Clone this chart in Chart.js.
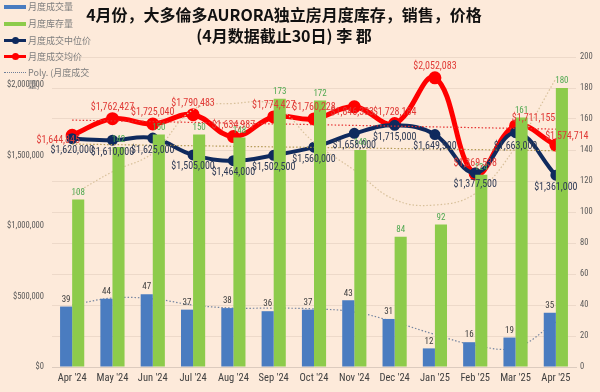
<!DOCTYPE html>
<html>
<head>
<meta charset="utf-8">
<script src="https://cdn.jsdelivr.net/npm/chart.js@4/dist/chart.umd.min.js"></script>
<style>
  html, body { margin: 0; padding: 0; background: #FDEADA; }
  #wrap { position: relative; width: 600px; height: 392px; overflow: hidden; background: #FDEADA; }
  #c { position: absolute; left: 0; top: 0; }
  #title { position: absolute; left: 0; top: 4px; width: 568px; text-align: center;
    font-family: 'Noto Sans CJK SC', 'Noto Sans', sans-serif; font-weight: bold; font-size: 16px;
    line-height: 21px; color: #111; }
  .lg { position: absolute; left: 28px; font-family: 'Noto Sans CJK SC', sans-serif; font-size: 9px;
    color: #7f7f7f; line-height: 12px; white-space: nowrap; }
  .sw { position: absolute; left: 4px; width: 22px; }
  .dot { position: absolute; width: 7px; height: 7px; border-radius: 50%; }
</style>
</head>
<body>
<div id="wrap">
  <canvas id="c" width="600" height="392"></canvas>
  <div id="title">4月份，大多倫多AURORA独立房月度库存，销售，价格<br>(4月数据截止30日) 李 郡</div>
  <div class="sw" style="top:5px;height:4px;background:#4A7CC0"></div>
  <div class="lg" style="top:1px">月度成交量</div>
  <div class="sw" style="top:22px;height:4px;background:#8DCB4B"></div>
  <div class="lg" style="top:18px">月度库存量</div>
  <div class="sw" style="top:39px;height:3px;background:#0F2A5E"></div>
  <div class="dot" style="left:12px;top:37px;background:#0F2A5E"></div>
  <div class="lg" style="top:35px">月度成交中位价</div>
  <div class="sw" style="top:55px;height:3px;background:#FF0000"></div>
  <div class="dot" style="left:12px;top:53px;background:#FF0000"></div>
  <div class="lg" style="top:51px">月度成交均价</div>
  <div class="sw" style="top:72px;height:0;border-top:1px dotted #6f7f99"></div>
  <div class="lg" style="top:67px">Poly. (月度成交<br>量)</div>
</div>
<script>
// ---- data ----
const months = ["Apr '24","May '24","Jun '24","Jul '24","Aug '24","Sep '24","Oct '24","Nov '24","Dec '24","Jan '25","Feb '25","Mar '25","Apr '25"];
const salesVolume = [39, 44, 47, 37, 38, 36, 37, 43, 31, 12, 16, 19, 35];
const inventory = [108, 142, 150, 150, 148, 173, 172, 140, 84, 92, 124, 161, 180];
const medianPrice = [1620000, 1610000, 1625000, 1505000, 1464000, 1502500, 1560000, 1658000, 1715000, 1649500, 1377500, 1663000, 1361000];
const averagePrice = [1644845, 1762427, 1725040, 1790483, 1634987, 1774427, 1760228, 1846333, 1728184, 2052083, 1369538, 1711155, 1574714];
// dotted trend lines
const salesTrend = [40, 44.5, 44, 40, 38, 38, 37.5, 35.5, 29, 21, 14, 12.5, 29];
const inventoryTrend = [111, 126, 138, 166, 170, 169, 145, 127, 108, 104.5, 112, 142, 186];
const averageTrend = [1752000, null, null, null, null, null, null, null, null, null, null, null, 1688000];
const medianTrend = [1582000, null, null, null, null, null, null, null, null, null, null, null, 1535000];
const leftTickValues = [0, 500000, 1000000, 1500000, 2000000];
const leftRange = [0, 2200000];
const rightTickValues = [0, 20, 40, 60, 80, 100, 120, 140, 160, 180, 200];

const NARROW = "'Liberation Sans Narrow', 'Arial Narrow', 'Roboto Condensed', 'Liberation Sans', sans-serif";
const money = v => '$' + Math.round(v).toLocaleString('en-US');

const bgPlugin = {
  id: 'bg',
  beforeDraw(chart) {
    const c = chart.ctx;
    c.save(); c.fillStyle = '#FDEADA'; c.fillRect(0, 0, chart.width, chart.height); c.restore();
  }
};

const labelPlugin = {
  id: 'valueLabels',
  afterDatasetDraw(chart, args) {
    if (args.index !== 1) return; // draw all labels right after the bars, beneath the lines
    const ctx = chart.ctx;
    chart.data.datasets.forEach((ds, i) => {
      const cfg = ds.labelCfg;
      if (!cfg) return;
      const meta = chart.getDatasetMeta(i);
      meta.data.forEach((el, j) => {
        const v = ds.data[j];
        if (v == null) return;
        const off = (cfg.offsets && cfg.offsets[j]) || cfg.offset;
        ctx.save();
        ctx.font = cfg.font;
        ctx.fillStyle = cfg.color;
        ctx.textAlign = 'center';
        ctx.textBaseline = 'middle';
        ctx.fillText(cfg.format(v), el.x + off[0], el.y + off[1]);
        ctx.restore();
      });
    });
  }
};

new Chart(document.getElementById('c'), {
  type: 'bar',
  data: {
    labels: months,
    datasets: [
      { type: 'bar', label: '月度成交量', data: salesVolume, yAxisID: 'y1',
        backgroundColor: '#4A7CC0', categoryPercentage: 0.6, barPercentage: 1.0,
        labelCfg: { font: '9px ' + NARROW, color: '#404040', offset: [0, -7], format: v => String(v) } },
      { type: 'bar', label: '月度库存量', data: inventory, yAxisID: 'y1',
        backgroundColor: '#8DCB4B', categoryPercentage: 0.6, barPercentage: 1.0,
        labelCfg: { font: '9px ' + NARROW, color: '#4FA850', offset: [0, -7], format: v => String(v) } },
      { type: 'line', label: 'Poly. (月度成交量)', data: salesTrend, yAxisID: 'y1',
        borderColor: '#7585A0', borderWidth: 1.2, borderDash: [1.5, 2], pointRadius: 0, tension: 0.4, fill: false },
      { type: 'line', label: 'Poly. (月度库存量)', data: inventoryTrend, yAxisID: 'y1',
        borderColor: '#D8C09A', borderWidth: 1.2, borderDash: [1.5, 2], pointRadius: 0, tension: 0.4, fill: false },
      { type: 'line', label: 'Linear (月度成交中位价)', data: medianTrend, yAxisID: 'y', spanGaps: true,
        borderColor: '#B49A55', borderWidth: 1.2, borderDash: [1.5, 2], pointRadius: 0, fill: false },
      { type: 'line', label: 'Linear (月度成交均价)', data: averageTrend, yAxisID: 'y', spanGaps: true,
        borderColor: '#E53030', borderWidth: 1.2, borderDash: [1.5, 2], pointRadius: 0, fill: false },
      { type: 'line', label: '月度成交中位价', data: medianPrice, yAxisID: 'y',
        borderColor: '#0F2A5E', backgroundColor: '#0F2A5E', borderWidth: 4, tension: 0.4,
        pointRadius: 3.5, pointBackgroundColor: '#0F2A5E', pointBorderColor: '#0F2A5E', fill: false,
        labelCfg: { font: '10px ' + NARROW, color: '#2E3A55', offset: [0, 12], offsets: { 11: [0, 14] }, format: money } },
      { type: 'line', label: '月度成交均价', data: averagePrice, yAxisID: 'y',
        borderColor: '#FF0000', backgroundColor: '#FF0000', borderWidth: 5, tension: 0.4,
        pointRadius: 4, pointBackgroundColor: '#FF0000', pointBorderColor: '#FF0000', fill: false,
        labelCfg: { font: '10px ' + NARROW, color: '#E03A36', offset: [0, -11],
          offsets: { 0: [-14, 5], 7: [-2, 6], 11: [18, -7], 12: [11, -9] }, format: money } }
    ]
  },
  options: {
    responsive: false,
    animation: false,
    layout: { padding: { top: 57, left: 0, right: 0, bottom: 0 } },
    plugins: { legend: { display: false }, tooltip: { enabled: false }, title: { display: false } },
    scales: {
      x: {
        offset: true,
        grid: { display: false, drawTicks: false },
        border: { display: true, color: '#DCCBBE' },
        ticks: { font: { family: NARROW, size: 10.5 }, color: '#404040', padding: 5, maxRotation: 0, autoSkip: false },
        afterFit(s) { s.height = 25; }
      },
      y: {
        position: 'left',
        min: leftRange[0], max: leftRange[1],
        grid: { display: false, drawTicks: false },
        border: { display: false },
        ticks: { font: { family: NARROW, size: 8.5 }, color: '#595959', padding: 8, callback: v => money(v) },
        afterBuildTicks(s) { s.ticks = leftTickValues.map(v => ({ value: v })); },
        afterFit(s) { s.width = 52; }
      },
      y1: {
        position: 'right',
        min: rightTickValues[0], max: rightTickValues[rightTickValues.length - 1],
        grid: { color: 'rgba(205,185,170,0.35)', drawTicks: false },
        border: { display: false },
        ticks: { font: { family: NARROW, size: 8.5 }, color: '#595959', padding: 4 },
        afterBuildTicks(s) { s.ticks = rightTickValues.map(v => ({ value: v })); },
        afterFit(s) { s.width = 24; }
      }
    }
  },
  plugins: [bgPlugin, labelPlugin]
});
</script>
</body>
</html>
